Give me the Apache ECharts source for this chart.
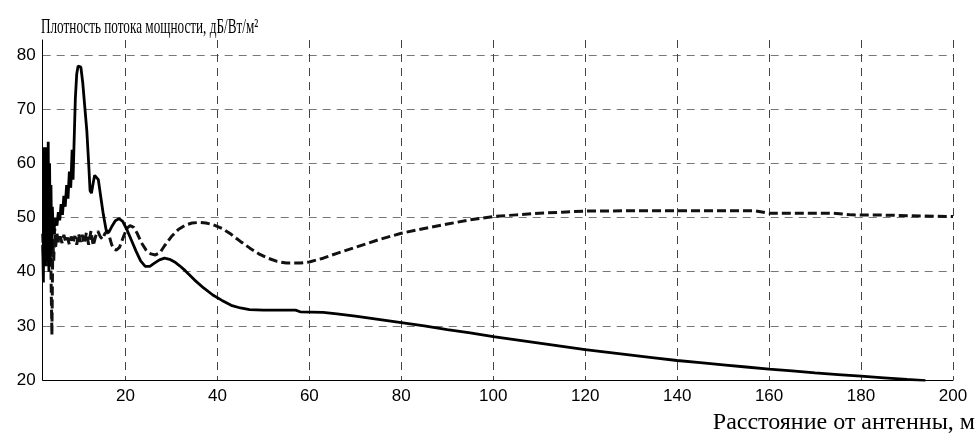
<!DOCTYPE html>
<html lang="ru">
<head>
    <meta charset="UTF-8">
    <script src="https://cdn.jsdelivr.net/npm/echarts@6/dist/echarts.min.js"></script>
    <title>Плотность потока мощности</title>
    <style>
        html, body { margin: 0; padding: 0; background: #fff; }
        #main { width: 976px; height: 433px; }
    </style>
</head>
<body>
<div id="main"></div>
<script>
    // расстояние, м / плотность, дБ
    let solidX = [2.0, 2.15, 2.3, 2.45, 2.6, 2.75, 2.9, 3.05, 3.2, 3.35, 3.5, 3.65, 3.8, 3.95, 4.1, 4.3,
        4.5, 4.8, 5.1, 5.4, 5.7, 6.0, 6.3, 6.6, 6.9, 7.2, 7.5, 7.8, 8.1, 8.4, 8.6, 8.8, 9.1, 9.4, 9.7,
        10.0, 10.3, 10.7, 11.2, 11.6, 12.0, 12.3, 12.6, 12.9, 13.3, 13.7, 14.1, 14.6, 15.2, 15.8, 16.4,
        17.0, 17.8, 18.6, 19.4, 20.3, 21.3, 22.3, 23.3, 24.3, 25.3, 26.3, 27.4, 28.5, 29.6, 30.7, 31.8,
        33, 35, 37, 39, 41, 43, 45, 47, 50, 57, 58, 63, 66, 70, 75, 80, 85, 90, 95, 100, 105, 110, 115,
        120, 125, 130, 135, 140, 145, 150, 155, 160, 165, 170, 175, 180, 185, 190, 194];
    let solidY = [45, 38, 63, 41, 62, 42, 63, 44, 64, 40, 60, 42, 56, 44, 52, 47,
        48, 50, 48.5, 51, 49.5, 52.5, 50.5, 54, 52, 56, 53.5, 58.5, 55.5, 62.5, 57, 63, 72, 76.5, 78,
        78.2, 77.8, 75, 70, 66, 60, 55, 54.5, 56, 57.8, 58, 57, 54, 50.5, 47.7, 47.3,
        48.3, 49.4, 49.8, 49.3, 47.8, 45.8, 43.8, 42.0, 41.0, 41.0, 41.6, 42.2, 42.5, 42.3, 41.8, 41.1,
        40.2, 38.5, 37, 35.7, 34.7, 33.8, 33.3, 33.0, 32.9, 32.9, 32.6, 32.5, 32.2, 31.8, 31.2, 30.6, 30.0, 29.3, 28.7, 28.0, 27.4, 26.8, 26.2,
        25.6, 25.1, 24.6, 24.1, 23.6, 23.2, 22.8, 22.4, 22.0, 21.7, 21.3, 21.0, 20.7, 20.4, 20.1, 19.9];

    let dashX = [2.0, 2.2, 2.4, 2.6, 2.8, 3.0, 3.2, 3.4, 3.6, 3.8, 4.0, 4.2, 4.4, 4.6, 4.8, 5.1, 5.4, 5.8,
        6.2, 6.6, 7.0, 7.4, 7.8, 8.2, 8.6, 9.0, 9.4, 9.8, 10.2, 10.6, 11.0, 11.5, 12.0, 12.5, 13.0, 13.5,
        14.0, 14.5, 15.0, 15.5, 16.0, 16.5, 17.0, 17.5, 18.0, 18.7, 19.5, 20.3, 21.0, 21.8, 22.6, 23.5,
        24.5, 25.5, 26.5, 27.5, 28.5, 30, 31.5, 33, 34.5, 36, 37.5, 39, 41, 43, 45, 47, 49, 51, 53, 55,
        58, 60, 63, 66, 70, 75, 80, 85, 90, 95, 100, 105, 110, 115, 120, 130, 140, 150, 157, 160, 170,
        174, 178, 185, 188, 193, 200];
    let dashY = [47, 42, 49, 44, 48, 41, 49, 43, 47, 40, 28.3, 46, 42, 48, 44.5, 47, 45.5, 46.5,
        45.3, 46.8, 45.5, 46.3, 45, 46.5, 45.3, 46.6, 45.0, 47.0, 45.5, 46.8, 45.2, 47.2, 45, 47.5, 44.8, 46.5,
        47.5, 46.5, 46, 47, 47.5, 46.5, 45, 44.2, 44.0, 44.5, 46.3, 48, 48.5, 48.2, 47.0, 45.3,
        44, 43.3, 43.1, 43.5, 44.8, 46.5, 47.8, 48.6, 49.0, 49.1, 49.0, 48.7, 48.0, 46.9, 45.6, 44.4, 43.3, 42.5, 41.9, 41.6,
        41.6, 41.8, 42.5, 43.4, 44.5, 45.9, 47.1, 48.0, 48.8, 49.6, 50.2, 50.5, 50.8, 51.0, 51.2, 51.25, 51.25, 51.25, 51.25, 50.8, 50.8,
        50.8, 50.5, 50.45, 50.4, 50.3, 50.2];

    let titleText = 'Плотность потока мощности, дБ/Вт/м²';
    let xName = 'Расстояние от антенны, м';

    let myChart = echarts.init(document.getElementById('main'));
    let zip = (xs, ys) => xs.map((x, i) => [x, ys[i]]);

    let option = {
        animation: false,
        grid: { left: 42.7, right: 23, top: 40, bottom: 53, outerBoundsMode: 'none' },
        graphic: [{
            type: 'text',
            x: 41,
            y: 16,
            scaleX: 0.6,
            style: {
                text: titleText,
                font: '22px "Liberation Serif"',
                fill: '#000'
            }
        }],
        xAxis: {
            type: 'value',
            min: 2,
            max: 200,
            splitNumber: 10,
            name: xName,
            nameLocation: 'end',
            nameGap: 22,
            nameTextStyle: {
                fontFamily: 'Liberation Serif',
                fontSize: 24,
                color: '#000',
                align: 'right',
                verticalAlign: 'top',
                padding: [31, 0, 0, 0]
            },
            axisLine: { lineStyle: { color: '#000', width: 1 } },
            axisTick: { show: false },
            axisLabel: {
                showMinLabel: false,
                color: '#000',
                fontFamily: 'Liberation Sans',
                fontSize: 17,
                margin: 8
            },
            splitLine: { show: true, lineStyle: { color: '#444', type: [8, 6], width: 1 } }
        },
        yAxis: {
            type: 'value',
            min: 20,
            max: 82.8,
            interval: 10,
            axisLine: { show: true, lineStyle: { color: '#000', width: 1 } },
            axisTick: { show: false },
            axisLabel: {
                showMaxLabel: false,
                color: '#000',
                fontFamily: 'Liberation Sans',
                fontSize: 17,
                margin: 7
            },
            splitLine: { show: true, showMaxLine: false, lineStyle: { color: '#777', type: [8, 6], width: 1 } }
        },
        series: [
            {
                type: 'line',
                data: zip(dashX, dashY),
                showSymbol: false,
                lineStyle: { color: '#111', width: 3, type: [9, 4] }
            },
            {
                type: 'line',
                data: zip(solidX, solidY),
                showSymbol: false,
                lineStyle: { color: '#000', width: 2.8 }
            }
        ]
    };

    myChart.setOption(option);
</script>
</body>
</html>
